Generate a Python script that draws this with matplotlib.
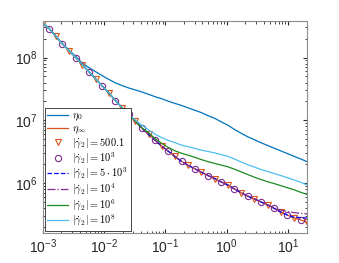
import matplotlib
matplotlib.use("Agg")
import matplotlib.pyplot as plt

plt.rcParams["font.family"] = ["Liberation Sans", "DejaVu Sans"]
plt.rcParams["mathtext.fontset"] = "cm"

# shear rate grid (same for every curve)
shear_rate = [0.001, 0.00128, 0.00164, 0.00210, 0.00270, 0.00346, 0.00443, 0.00568,
              0.00728, 0.00933, 0.0120, 0.0153, 0.0196, 0.0252, 0.0323, 0.0413,
              0.0530, 0.0679, 0.0870, 0.111, 0.143, 0.183, 0.235, 0.301, 0.386,
              0.494, 0.634, 0.812, 1.04, 1.33, 1.71, 2.19, 2.81, 3.60, 4.61,
              5.91, 7.57, 9.71, 12.4, 16.0, 20.4]

eta_inf = [3.58e8, 2.87e8, 2.17e8, 1.64e8, 1.28e8, 1.0e8, 7.7e7, 5.95e7, 4.58e7,
           3.53e7, 2.72e7, 2.07e7, 1.60e7, 1.26e7, 9.75e6, 7.5e6, 6.0e6, 4.82e6,
           3.9e6, 3.24e6, 2.67e6, 2.23e6, 1.93e6, 1.70e6, 1.50e6, 1.33e6, 1.19e6,
           1.05e6, 9.4e5, 8.15e5, 7.07e5, 6.25e5, 5.66e5, 5.06e5, 4.53e5, 4.0e5,
           3.49e5, 3.13e5, 2.83e5, 2.62e5, 2.4e5]

eta_0 = [3.58e8, 2.87e8, 2.18e8, 1.64e8, 1.30e8, 1.04e8, 8.1e7, 6.9e7, 5.95e7,
         5.13e7, 4.48e7, 3.95e7, 3.58e7, 3.28e7, 3.05e7, 2.83e7, 2.60e7, 2.38e7,
         2.21e7, 2.02e7, 1.86e7, 1.73e7, 1.58e7, 1.45e7, 1.33e7, 1.19e7, 1.08e7,
         9.5e6, 8.4e6, 7.2e6, 6.25e6, 5.5e6, 4.94e6, 4.42e6, 4.0e6, 3.62e6,
         3.28e6, 2.97e6, 2.69e6, 2.44e6, 2.21e6]

gamma_500 = eta_inf
gamma_1e3 = eta_inf
gamma_5e3 = eta_inf[:38] + [2.9e5, 2.85e5, 2.8e5]
gamma_1e4 = eta_inf[:34] + [4.55e5, 4.08e5, 3.75e5, 3.55e5, 3.42e5, 3.33e5, 3.26e5]
gamma_1e6 = eta_inf[:15] + [7.62e6, 6.40e6, 5.13e6, 4.31e6, 3.72e6, 3.28e6, 3.01e6,
                            2.79e6, 2.59e6, 2.38e6, 2.21e6, 2.07e6, 1.95e6, 1.83e6,
                            1.68e6, 1.52e6, 1.38e6, 1.25e6, 1.15e6, 1.06e6, 9.9e5,
                            9.2e5, 8.5e5, 7.9e5, 7.2e5, 6.65e5]
gamma_1e8 = eta_inf[:14] + [1.01e7, 8.4e6, 7.07e6, 6.03e6, 5.32e6, 4.82e6, 4.42e6,
                            4.05e6, 3.81e6, 3.58e6, 3.36e6, 3.20e6, 3.05e6, 2.86e6,
                            2.69e6, 2.44e6, 2.18e6, 1.98e6, 1.81e6, 1.66e6, 1.54e6,
                            1.43e6, 1.33e6, 1.23e6, 1.13e6, 1.04e6, 9.4e5]

labels = [r"$\eta_0$", r"$\eta_\infty$", r"$|\dot{\gamma}_2| = 500.1$",
          r"$|\dot{\gamma}_2| = 10^3$", r"$|\dot{\gamma}_2| = 5\cdot10^3$",
          r"$|\dot{\gamma}_2| = 10^4$", r"$|\dot{\gamma}_2| = 10^6$",
          r"$|\dot{\gamma}_2| = 10^8$"]

fig = plt.figure(figsize=(3.39, 2.63), dpi=100)
ax = fig.add_axes([0.126, 0.114, 0.78, 0.806])

ax.plot(shear_rate, eta_0, color="#0072BD", lw=0.9, label=labels[0])
ax.plot(shear_rate, eta_inf, color="#D95319", lw=0.9, label=labels[1])
ax.plot(shear_rate, gamma_500, ls="none", marker="v", ms=4.5, mfc="none",
        mec="#D95319", mew=0.8, markevery=(0, 2), label=labels[2])
ax.plot(shear_rate, gamma_1e3, ls="none", marker="o", ms=4.5, mfc="none",
        mec="#7E2F8E", mew=0.8, markevery=(1, 2), label=labels[3])
ax.plot(shear_rate, gamma_5e3, color="#0000FF", ls="--", lw=0.9, label=labels[4])
ax.plot(shear_rate, gamma_1e4, color="#7E2F8E", ls="-.", lw=0.9, label=labels[5])
ax.plot(shear_rate, gamma_1e6, color="#1E8C1E", lw=0.9, label=labels[6])
ax.plot(shear_rate, gamma_1e8, color="#4DBEEE", lw=0.9, label=labels[7])

ax.set_xscale("log")
ax.set_yscale("log")
ax.set_xlim(1e-3, 20.4)
ax.set_ylim(1.62e5, 3.8e8)

ax.tick_params(which="both", direction="in", top=True, right=True,
               colors="#262626", labelsize=10)
ax.tick_params(which="major", length=3)
ax.tick_params(which="minor", length=1.8)
for spine in ax.spines.values():
    spine.set_color("#8c8c8c")
    spine.set_linewidth(0.8)

leg = ax.legend(loc="lower left", fontsize=7.5, handlelength=2.0,
                handletextpad=0.4, labelspacing=0.02, borderpad=0.25,
                borderaxespad=0.2, fancybox=False, framealpha=1)
leg.get_frame().set_edgecolor("#262626")
leg.get_frame().set_linewidth(0.6)

fig.savefig("out.png", dpi=100)
